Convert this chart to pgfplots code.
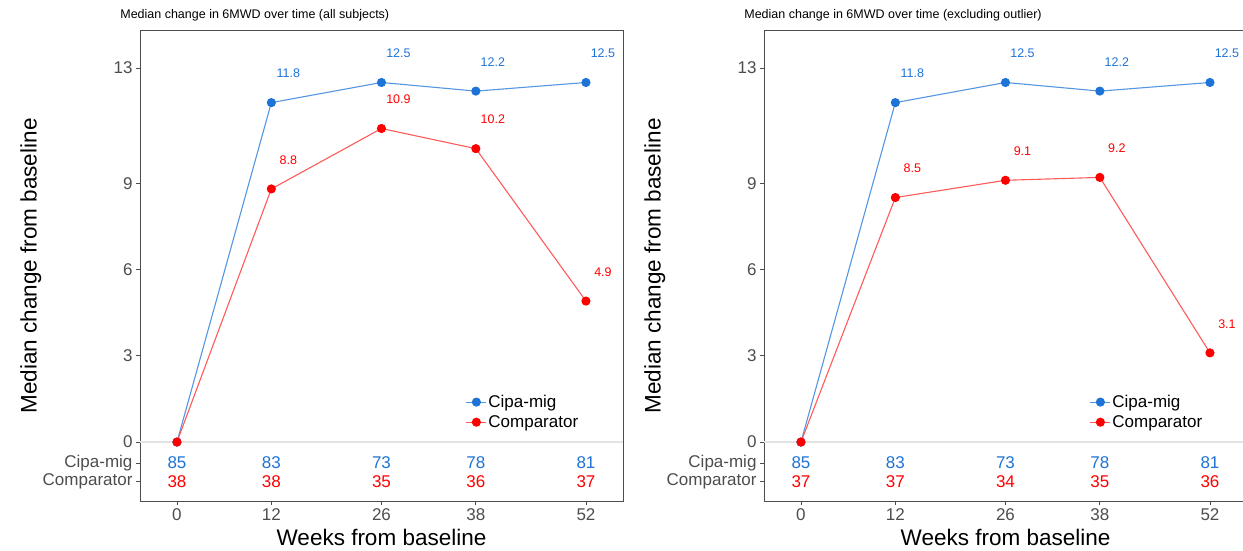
\documentclass[border=0pt]{standalone}
\usepackage{pgfplots}
\pgfplotsset{compat=1.18}
\usepackage{pgfplotstable}
\usepackage{fontspec}
\setmainfont{Liberation Sans}

\definecolor{cipa}{RGB}{30,115,215}
\definecolor{cipaline}{RGB}{85,150,225}
\definecolor{comp}{RGB}{255,0,0}
\definecolor{compline}{RGB}{255,90,90}
\definecolor{tickgray}{RGB}{77,77,77}

% median change from baseline and number of subjects per visit
\pgfplotstableread{
week cipa comp ncipa ncomp
0    0    0    85    38
12   11.8 8.8  83    38
26   12.5 10.9 73    35
38   12.2 10.2 78    36
52   12.5 4.9  81    37
}\allsubjects

\pgfplotstableread{
week cipa comp ncipa ncomp
0    0    0    85    37
12   11.8 8.5  83    37
26   12.5 9.1  73    34
38   12.2 9.2  78    35
52   12.5 3.1  81    36
}\nooutlier

\newcommand{\ticksize}{\fontsize{17}{20}\selectfont}
\newcommand{\labsize}{\fontsize{22.5}{26}\selectfont}
\newcommand{\valsize}{\fontsize{12.5}{14}\selectfont}

\pgfplotsset{
  every axis title/.style={},
  sixmwd/.style={
    scale only axis,
    width=483pt, height=470pt,
    anchor=south west,
    xmin=-4.7, xmax=56.71,
    ymin=-2.05, ymax=14.29,
    xtick={0,12,26,38,52},
    ytick={-1.36,-0.73,0,3,6,9,13},
    yticklabels={Comparator,Cipa-mig,0,3,6,9,13},
    xtick pos=left, ytick pos=left,
    tick align=outside,
    major tick length=4pt,
    tick style={tickgray, line width=0.8pt},
    axis line style={tickgray, line width=1pt},
    /pgf/number format/assume math mode=true,
    tick label style={font=\ticksize, text=tickgray},
    xlabel={Weeks from baseline},
    ylabel={Median change from baseline},
    label style={font=\labsize, text=black},
    xlabel style={at={(axis description cs:0.5,-0.077)}, anchor=center},
    ylabel style={at={(axis description cs:-0.226,0.5)}, anchor=center},
    title style={at={(axis description cs:-0.048,1.033)}, anchor=west,
                 font=\fontsize{12.5}{14}\selectfont},
    legend style={draw=none, fill=white, font=\ticksize,
                  at={(axis description cs:0.668,0.233)}, anchor=north west,
                  nodes={inner sep=1.5pt}, row sep=3.5pt,
                  /tikz/every even column/.append style={column sep=5pt}},
    legend cell align=left,
    legend image code/.code={
      \draw[##1, mark repeat=2, mark phase=2] plot coordinates {(0pt,0pt) (10pt,0pt) (20pt,0pt)};},
    clip=false,
  },
  series/.style={line width=1.1pt, mark=*, mark size=4pt},
  vals/.style={draw=none, mark=none, nodes near coords,
    point meta=y, restrict x to domain=1:60,
    nodes near coords={\pgfmathprintnumber[fixed,precision=1,fixed zerofill]{\pgfplotspointmeta}},
    every node near coord/.append style={font=\valsize, anchor=center, xshift=17pt, yshift=29pt}},
  counts/.style={draw=none, mark=none, nodes near coords,
    point meta=explicit symbolic,
    every node near coord/.append style={font=\ticksize, anchor=center}},
}

\begin{document}
\begin{tikzpicture}[x=1pt,y=1pt]
\useasboundingbox (0,0) rectangle (1243,550);

% all subjects
\begin{axis}[sixmwd, at={(140pt,49pt)},
  title={Median change in 6MWD over time (all subjects)}]
  \addplot[gray!22, line width=1.3pt, forget plot] coordinates {(-4.7,0) (56.71,0)};
  \addplot[series, color=cipaline, mark options={fill=cipa, draw=cipa}] table[x=week, y=cipa] {\allsubjects};
  \addlegendentry{Cipa-mig}
  \addplot[series, color=compline, mark options={fill=comp, draw=comp}] table[x=week, y=comp] {\allsubjects};
  \addlegendentry{Comparator}
  \addplot[vals, forget plot, every node near coord/.append style={text=cipa}] table[x=week, y=cipa] {\allsubjects};
  \addplot[vals, forget plot, every node near coord/.append style={text=comp}] table[x=week, y=comp] {\allsubjects};
  \addplot[counts, forget plot, every node near coord/.append style={text=cipa}] table[x=week, y expr=-0.73, meta=ncipa] {\allsubjects};
  \addplot[counts, forget plot, every node near coord/.append style={text=comp}] table[x=week, y expr=-1.36, meta=ncomp] {\allsubjects};
\end{axis}

% outlier removed
\begin{axis}[sixmwd, at={(764pt,49pt)},
  title={Median change in 6MWD over time (excluding outlier)}]
  \addplot[gray!22, line width=1.3pt, forget plot] coordinates {(-4.7,0) (56.71,0)};
  \addplot[series, color=cipaline, mark options={fill=cipa, draw=cipa}] table[x=week, y=cipa] {\nooutlier};
  \addlegendentry{Cipa-mig}
  \addplot[series, color=compline, mark options={fill=comp, draw=comp}] table[x=week, y=comp] {\nooutlier};
  \addlegendentry{Comparator}
  \addplot[vals, forget plot, every node near coord/.append style={text=cipa}] table[x=week, y=cipa] {\nooutlier};
  \addplot[vals, forget plot, every node near coord/.append style={text=comp}] table[x=week, y=comp] {\nooutlier};
  \addplot[counts, forget plot, every node near coord/.append style={text=cipa}] table[x=week, y expr=-0.73, meta=ncipa] {\nooutlier};
  \addplot[counts, forget plot, every node near coord/.append style={text=comp}] table[x=week, y expr=-1.36, meta=ncomp] {\nooutlier};
\end{axis}
\end{tikzpicture}
\end{document}
